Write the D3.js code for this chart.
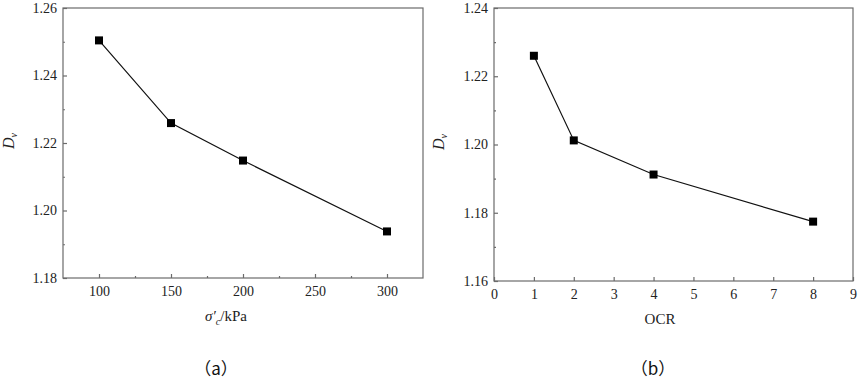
<!DOCTYPE html>
<html>
<head>
<meta charset="utf-8">
<script src="https://cdn.jsdelivr.net/npm/d3@7"></script>
</head>
<body style="margin:0;background:#fff">
<svg id="chart" width="858" height="380" font-family="Liberation Serif"></svg>
<script>

// panel (a): consolidation pressure
const stressValues = [ 100, 150, 200, 300 ];
const stressDv = [ 1.2504, 1.2259, 1.2148, 1.1938 ];
const stressTicks = [ 100, 150, 200, 250, 300 ];
const stressYTicks = [ 1.18, 1.20, 1.22, 1.24, 1.26 ];

// panel (b): over-consolidation ratio
const ocrValues = [ 1, 2, 4, 8 ];
const ocrDv = [ 1.2260, 1.2012, 1.1912, 1.1774 ];
const ocrTicks = [ 0, 1, 2, 3, 4, 5, 6, 7, 8, 9 ];
const ocrYTicks = [ 1.16, 1.18, 1.20, 1.22, 1.24 ];

const svg = d3.select( "#chart" );
const axisColor = "#6b6b6b";
const serif = "Liberation Serif";

function drawPanel( opt ) {

  const g = svg.append( "g" );

  const x = d3.scaleLinear()
    .domain( opt.xDomain )
    .range( [ opt.left, opt.right ] );

  const y = d3.scaleLinear()
    .domain( opt.yDomain )
    .range( [ opt.bottom, opt.top ] );

  // frame
  g.append( "rect" )
    .attr( "x", opt.left )
    .attr( "y", opt.top )
    .attr( "width", opt.right - opt.left )
    .attr( "height", opt.bottom - opt.top )
    .attr( "fill", "none" )
    .attr( "stroke", axisColor )
    .attr( "stroke-width", 1.2 );

  // ticks point inward
  const xAxis = g.append( "g" )
    .attr( "transform", `translate(0,${ opt.bottom })` )
    .call( d3.axisBottom( x ).tickValues( opt.xTicks ).tickSize( -4 ).tickPadding( 8 ).tickFormat( d3.format( "d" ) ) );

  const xMinor = g.append( "g" )
    .attr( "transform", `translate(0,${ opt.bottom })` )
    .call( d3.axisBottom( x ).tickValues( opt.xMinor ).tickSize( -2 ).tickFormat( "" ) );

  const yAxis = g.append( "g" )
    .attr( "transform", `translate(${ opt.left },0)` )
    .call( d3.axisLeft( y ).tickValues( opt.yTicks ).tickSize( -4 ).tickPadding( 6 ).tickFormat( d3.format( ".2f" ) ) );

  const yMinor = g.append( "g" )
    .attr( "transform", `translate(${ opt.left },0)` )
    .call( d3.axisLeft( y ).tickValues( opt.yMinor ).tickSize( -2 ).tickFormat( "" ) );

  [ xAxis, xMinor, yAxis, yMinor ].forEach( a => {
    a.attr( "font-family", serif ).attr( "font-size", 14 );
    a.select( ".domain" ).remove();
    a.selectAll( "line" ).attr( "stroke", axisColor ).attr( "stroke-width", 1.2 );
    a.selectAll( "text" ).attr( "fill", "#222" );
  } );

  if( opt.lowLabels ) {
    xAxis.selectAll( "text" ).attr( "y", 8 );
  }

  // line + markers
  const pts = opt.xs.map( ( d, i ) => [ d, opt.ys[ i ] ] );

  g.append( "path" )
    .datum( pts )
    .attr( "fill", "none" )
    .attr( "stroke", "#111" )
    .attr( "stroke-width", 1.2 )
    .attr( "d", d3.line().x( d => x( d[ 0 ] ) ).y( d => y( d[ 1 ] ) ) );

  g.selectAll( "rect.marker" )
    .data( pts )
    .enter().append( "rect" )
      .attr( "class", "marker" )
      .attr( "x", d => x( d[ 0 ] ) - 4 )
      .attr( "y", d => y( d[ 1 ] ) - 4 )
      .attr( "width", 8 )
      .attr( "height", 8 )
      .attr( "fill", "#000" );

  // y label D_v
  const yl = g.append( "text" )
    .attr( "transform", `translate(${ opt.yLabelX },${ opt.yLabelY }) rotate(-90)` )
    .attr( "text-anchor", "middle" )
    .attr( "font-family", serif )
    .attr( "font-size", 16 )
    .attr( "font-style", "italic" )
    .attr( "fill", "#222" );
  yl.append( "tspan" ).text( "D" );
  yl.append( "tspan" ).attr( "dy", 3 ).attr( "font-size", 10 ).text( "v" );

  // x label
  const xl = g.append( "text" )
    .attr( "x", opt.xLabelX )
    .attr( "y", opt.bottom + 43 )
    .attr( "text-anchor", "middle" )
    .attr( "font-family", serif )
    .attr( "font-size", 15 )
    .attr( "fill", "#222" );
  opt.xLabel( xl );

  // caption
  svg.append( "text" )
    .attr( "x", opt.capX )
    .attr( "y", 375 )
    .attr( "text-anchor", "middle" )
    .attr( "font-family", "Noto Sans CJK SC" )
    .attr( "font-size", 17 )
    .attr( "fill", "#111" )
    .text( opt.caption );

}

drawPanel( {
  left: 63, right: 423, top: 8, bottom: 278,
  xDomain: [ 75, 325 ], yDomain: [ 1.18, 1.26 ],
  xTicks: stressTicks, xMinor: [ 125, 175, 225, 275 ],
  yTicks: stressYTicks, yMinor: [ 1.19, 1.21, 1.23, 1.25 ],
  xs: stressValues, ys: stressDv,
  yLabelX: 14, yLabelY: 141,
  xLabelX: 226,
  xLabel: t => {
    t.append( "tspan" ).attr( "font-style", "italic" ).text( "σ′" );
    t.append( "tspan" ).attr( "dy", 4 ).attr( "font-size", 10 ).attr( "font-style", "italic" ).text( "c" );
    t.append( "tspan" ).attr( "dy", -4 ).text( "/kPa" );
  },
  capX: 216, caption: "（a）"
} );

drawPanel( {
  left: 494, right: 853, top: 8, bottom: 281,
  xDomain: [ 0, 9 ], yDomain: [ 1.16, 1.24 ],
  xTicks: ocrTicks, xMinor: [],
  yTicks: ocrYTicks, yMinor: [ 1.17, 1.19, 1.21, 1.23 ],
  xs: ocrValues, ys: ocrDv,
  lowLabels: true,
  yLabelX: 444, yLabelY: 142,
  xLabelX: 660,
  xLabel: t => t.text( "OCR" ),
  capX: 653, caption: "（b）"
} );

</script>
</body>
</html>
